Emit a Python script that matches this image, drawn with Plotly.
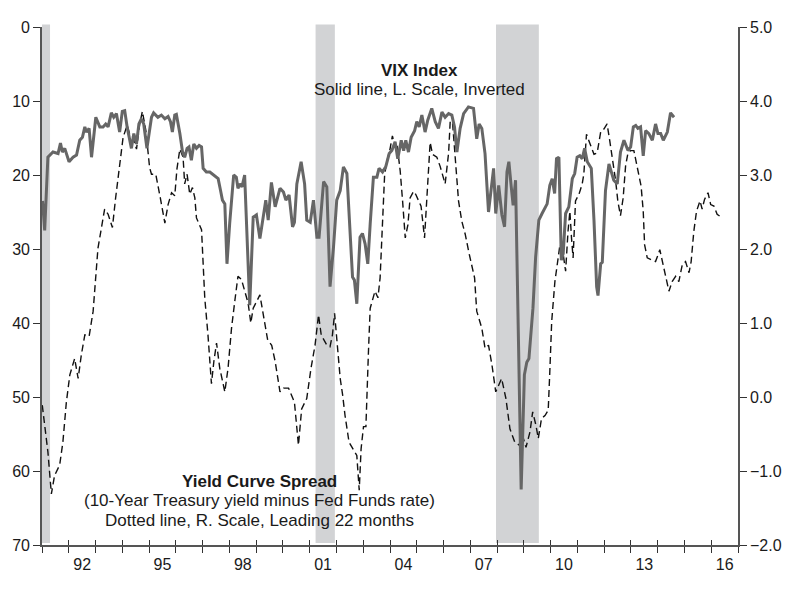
import plotly.graph_objects as go

# ---------------- data ----------------
vix_dates = [1991.02, 1991.10, 1991.22, 1991.41, 1991.60, 1991.69, 1991.76, 1991.85, 1992.01, 1992.16,
             1992.29, 1992.41, 1992.51, 1992.60, 1992.66, 1992.76, 1992.85, 1993.01, 1993.16, 1993.28,
             1993.38, 1993.47, 1993.59, 1993.68, 1993.78, 1993.90, 1994.00, 1994.09, 1994.18, 1994.34,
             1994.43, 1994.53, 1994.62, 1994.71, 1994.80, 1994.92, 1995.09, 1995.17, 1995.33, 1995.46,
             1995.59, 1995.71, 1995.80, 1995.87, 1995.96, 1996.02, 1996.15, 1996.25, 1996.33, 1996.42,
             1996.49, 1996.58, 1996.67, 1996.77, 1996.87, 1996.96, 1997.02, 1997.14, 1997.27, 1997.39,
             1997.58, 1997.67, 1997.74, 1997.83, 1997.91, 1998.01, 1998.16, 1998.26, 1998.32, 1998.39,
             1998.47, 1998.57, 1998.66, 1998.76, 1998.89, 1999.01, 1999.14, 1999.26, 1999.36, 1999.45,
             1999.57, 1999.71, 1999.89, 2000.02, 2000.11, 2000.23, 2000.36, 2000.43, 2000.52, 2000.68,
             2000.81, 2000.89, 2001.02, 2001.14, 2001.27, 2001.35, 2001.52, 2001.64, 2001.76, 2001.89,
             2002.01, 2002.14, 2002.26, 2002.39, 2002.51, 2002.60, 2002.67, 2002.76, 2002.88, 2002.97,
             2003.07, 2003.17, 2003.26, 2003.38, 2003.51, 2003.59, 2003.72, 2003.84, 2003.97, 2004.07,
             2004.19, 2004.29, 2004.42, 2004.51, 2004.59, 2004.69, 2004.79, 2004.92, 2005.00, 2005.09,
             2005.19, 2005.31, 2005.41, 2005.56, 2005.69, 2005.81, 2005.94, 2006.06, 2006.19, 2006.31,
             2006.41, 2006.50, 2006.62, 2006.75, 2006.93, 2007.12, 2007.24, 2007.33, 2007.43, 2007.55,
             2007.68, 2007.78, 2007.87, 2007.95, 2008.06, 2008.18, 2008.28, 2008.37, 2008.44, 2008.53,
             2008.60, 2008.69, 2008.78, 2008.90, 2009.02, 2009.11, 2009.19, 2009.34, 2009.44, 2009.56,
             2009.68, 2009.87, 2009.97, 2010.06, 2010.15, 2010.22, 2010.31, 2010.40, 2010.47, 2010.56,
             2010.68, 2010.81, 2010.90, 2010.99, 2011.09, 2011.18, 2011.27, 2011.37, 2011.52, 2011.62,
             2011.72, 2011.77, 2011.87, 2011.93, 2012.05, 2012.18, 2012.36, 2012.49, 2012.61, 2012.74,
             2012.89, 2012.99, 2013.09, 2013.18, 2013.26, 2013.36, 2013.46, 2013.55, 2013.67, 2013.80,
             2013.92, 2014.01, 2014.11, 2014.21, 2014.36, 2014.48, 2014.61]
vix_values = [23.5, 27.5, 17.6, 16.9, 17.1, 15.7, 16.9, 16.4, 18.2, 17.6,
              17.3, 15.3, 14.9, 13.5, 14.2, 13.7, 17.6, 12.2, 13.5, 13.5,
              13.1, 13.5, 11.6, 12.2, 11.7, 14.2, 11.4, 11.3, 13.5, 16.4,
              14.4, 15.8, 13.1, 12.4, 13.1, 16.4, 12.2, 11.6, 12.2, 11.9,
              12.4, 12.1, 12.8, 14.2, 11.9, 11.8, 14.4, 16.9, 17.6, 16.4,
              16.2, 18.0, 15.8, 16.4, 16.0, 16.2, 19.1, 19.6, 19.6, 20.0,
              20.5, 22.1, 23.4, 23.9, 32.0, 26.6, 20.0, 20.3, 21.8, 21.2,
              21.6, 20.0, 27.9, 37.6, 25.7, 25.4, 28.6, 25.7, 23.4, 26.1,
              21.0, 24.3, 21.8, 22.3, 23.4, 22.7, 27.0, 26.4, 21.2, 18.2,
              21.2, 26.1, 26.4, 23.4, 28.4, 28.4, 20.9, 21.6, 35.1, 29.7,
              23.4, 22.1, 18.9, 19.8, 27.9, 33.8, 34.2, 37.4, 28.4, 27.9,
              29.3, 32.0, 26.6, 20.3, 20.3, 19.1, 19.6, 18.9, 17.1, 16.7,
              15.5, 17.8, 15.3, 16.7, 15.3, 16.9, 14.9, 14.0, 12.8, 13.5,
              11.9, 14.2, 12.6, 11.0, 12.8, 13.7, 11.5, 12.2, 11.7, 11.9,
              13.5, 16.9, 13.7, 11.7, 10.8, 11.0, 15.1, 13.1, 13.7, 17.1,
              25.0, 22.1, 19.1, 25.2, 21.4, 25.4, 27.0, 19.6, 18.2, 21.6,
              24.1, 20.7, 40.0, 62.5, 47.0, 45.3, 44.8, 38.0, 31.1, 26.1,
              25.2, 23.9, 21.4, 20.5, 22.5, 17.8, 17.6, 31.5, 30.6, 25.2,
              24.3, 20.5, 19.8, 17.6, 17.4, 17.8, 16.4, 18.2, 19.1, 26.1,
              35.1, 36.3, 32.0, 31.8, 22.1, 18.5, 20.7, 21.2, 16.9, 15.3,
              16.7, 16.2, 13.5, 13.3, 13.7, 13.5, 17.4, 14.0, 14.4, 15.3,
              13.1, 14.4, 14.4, 15.3, 14.2, 11.6, 12.2]

spread_dates = [1991.01, 1991.22, 1991.35, 1991.47, 1991.66, 1991.78, 1991.91, 1992.04, 1992.22, 1992.35,
                1992.47, 1992.60, 1992.76, 1992.91, 1993.09, 1993.34, 1993.47, 1993.63, 1993.75, 1993.90,
                1994.03, 1994.18, 1994.28, 1994.40, 1994.53, 1994.65, 1994.75, 1994.88, 1995.02, 1995.09,
                1995.25, 1995.42, 1995.59, 1995.71, 1995.84, 1995.96, 1996.04, 1996.15, 1996.27, 1996.33,
                1996.42, 1996.52, 1996.62, 1996.71, 1996.77, 1996.96, 1997.08, 1997.20, 1997.33, 1997.42,
                1997.52, 1997.64, 1997.83, 1997.95, 1998.08, 1998.20, 1998.32, 1998.45, 1998.54, 1998.70,
                1998.80, 1998.89, 1999.14, 1999.32, 1999.43, 1999.58, 1999.71, 1999.89, 2000.02, 2000.21,
                2000.43, 2000.58, 2000.70, 2000.89, 2001.05, 2001.20, 2001.33, 2001.43, 2001.52, 2001.64,
                2001.76, 2001.85, 2001.93, 2002.01, 2002.14, 2002.23, 2002.32, 2002.47, 2002.60, 2002.76,
                2002.85, 2002.92, 2003.01, 2003.10, 2003.20, 2003.26, 2003.44, 2003.55, 2003.63, 2003.69,
                2003.80, 2003.92, 2004.00, 2004.09, 2004.19, 2004.26, 2004.38, 2004.47, 2004.57, 2004.67,
                2004.75, 2004.88, 2004.96, 2005.07, 2005.16, 2005.29, 2005.38, 2005.50, 2005.59, 2005.75,
                2005.87, 2006.06, 2006.19, 2006.25, 2006.34, 2006.43, 2006.56, 2006.68, 2006.81, 2006.96,
                2007.06, 2007.16, 2007.24, 2007.43, 2007.55, 2007.68, 2007.81, 2007.95, 2008.17, 2008.33,
                2008.48, 2008.66, 2008.83, 2008.95, 2009.08, 2009.23, 2009.33, 2009.45, 2009.54, 2009.66,
                2009.79, 2009.91, 2009.97, 2010.04, 2010.16, 2010.25, 2010.35, 2010.47, 2010.56, 2010.65,
                2010.72, 2010.78, 2010.84, 2010.93, 2011.06, 2011.18, 2011.24, 2011.34, 2011.43, 2011.52,
                2011.62, 2011.74, 2011.87, 2011.99, 2012.11, 2012.21, 2012.30, 2012.43, 2012.51, 2012.61,
                2012.71, 2012.80, 2012.89, 2012.99, 2013.11, 2013.26, 2013.38, 2013.46, 2013.51, 2013.61,
                2013.74, 2013.92, 2014.08, 2014.21, 2014.30, 2014.42, 2014.54, 2014.67, 2014.79, 2014.92,
                2015.04, 2015.17, 2015.25, 2015.35, 2015.45, 2015.58, 2015.66, 2015.75, 2015.88, 2015.98,
                2016.10, 2016.22, 2016.41]
spread_values = [-0.11, -0.74, -1.31, -1.06, -0.92, -0.61, -0.07, 0.30, 0.52, 0.25,
                 0.57, 0.84, 0.82, 1.16, 2.01, 2.54, 2.47, 2.29, 2.69, 3.15,
                 3.51, 3.67, 3.55, 3.51, 3.35, 3.69, 3.86, 3.60, 3.10, 3.01,
                 3.01, 2.69, 2.35, 2.60, 2.76, 2.72, 3.08, 3.35, 3.24, 2.88,
                 3.01, 2.74, 2.83, 2.69, 2.42, 2.26, 1.34, 0.84, 0.18, 0.48,
                 0.73, 0.39, 0.07, 0.39, 0.93, 1.29, 1.63, 1.59, 1.47, 1.27,
                 1.00, 1.20, 1.38, 1.02, 0.77, 0.70, 0.48, 0.07, 0.12, 0.12,
                 -0.07, -0.65, -0.16, -0.02, 0.39, 0.70, 1.11, 0.84, 0.77, 0.70,
                 0.68, 0.84, 1.13, 0.75, 0.25, 0.03, -0.25, -0.61, -0.70, -0.79,
                 -1.26, -0.70, -0.40, -0.40, 0.66, 1.20, 1.43, 1.34, 1.61, 2.11,
                 3.01, 3.24, 3.35, 3.53, 3.37, 3.42, 3.06, 2.65, 2.15, 2.33,
                 2.69, 2.78, 2.74, 2.65, 2.58, 2.15, 2.78, 3.44, 3.28, 3.24,
                 3.12, 2.88, 3.30, 3.73, 3.69, 3.24, 2.65, 2.38, 2.20, 1.93,
                 1.79, 1.61, 1.16, 0.93, 0.66, 0.70, 0.43, 0.07, 0.25, -0.02,
                 -0.43, -0.61, -0.65, -0.52, -0.68, -0.47, -0.20, -0.38, -0.56, -0.29,
                 -0.25, -0.18, 0.34, 1.02, 1.56, 1.83, 2.06, 1.93, 1.70, 2.24,
                 2.51, 2.15, 1.88, 2.65, 2.74, 2.88, 3.01, 3.55, 3.46, 3.37,
                 3.28, 3.30, 3.58, 3.62, 3.69, 3.46, 3.24, 2.92, 2.65, 2.45,
                 2.69, 3.12, 3.30, 3.33, 3.33, 3.06, 2.85, 2.51, 2.06, 1.88,
                 1.86, 1.83, 1.99, 1.79, 1.61, 1.43, 1.56, 1.63, 1.56, 1.79,
                 1.83, 1.68, 1.83, 2.24, 2.51, 2.65, 2.54, 2.67, 2.76, 2.60,
                 2.58, 2.47, 2.42]

recessions = [(1991.0, 1991.3), (2001.22, 2001.94), (2007.96, 2009.56)]

year_ticks = list(range(1991, 2018))
label_positions = [1992.5, 1995.5, 1998.5, 2001.5, 2004.5, 2007.5, 2010.5, 2013.5, 2016.5]
label_texts = ["92", "95", "98", "01", "04", "07", "10", "13", "16"]
left_ticks = [0, 10, 20, 30, 40, 50, 60, 70]
right_ticks = [-2, -1, 0, 1, 2, 3, 4, 5]

# ---------------- layout helpers ----------------
ML, MR, MT, MB = 42, 62, 27, 53
W, H = 800, 598
PW, PH = W - ML - MR, H - MT - MB


def px_x(x):
    return (x - ML) / PW


def px_y(y):
    return (H - MB - y) / PH


FONT = "Liberation Sans, Arial, Helvetica, sans-serif"
AXC = "#555555"
TXT = "#1a1a1a"
XR = [1991, 2017]

fig = go.Figure()

# empty helper traces so that the overlay x axes (labels / inner ticks) are drawn
fig.add_trace(go.Scatter(x=[None], y=[None], xaxis="x2", yaxis="y", mode="lines",
                         showlegend=False, hoverinfo="skip"))
fig.add_trace(go.Scatter(x=[None], y=[None], xaxis="x3", yaxis="y", mode="lines",
                         showlegend=False, hoverinfo="skip"))

fig.add_trace(go.Scatter(
    x=spread_dates, y=spread_values, mode="lines",
    line=dict(color="#111111", width=1.4, dash="7px,4px"),
    xaxis="x", yaxis="y", showlegend=False, hoverinfo="skip"))

fig.add_trace(go.Scatter(
    x=vix_dates, y=vix_values, mode="lines",
    line=dict(color="#666666", width=3),
    xaxis="x", yaxis="y2", showlegend=False, hoverinfo="skip"))

shapes = []
for s, e in recessions:
    shapes.append(dict(type="rect", xref="x", yref="paper", x0=s, x1=e, y0=0.004, y1=1.005,
                       fillcolor="#d2d3d5", line=dict(width=0), layer="below"))

annotations = [
    dict(text="<b>VIX Index</b>", x=px_x(419), y=px_y(70.5)),
    dict(text="Solid line, L. Scale, Inverted", x=px_x(419), y=px_y(89.5)),
    dict(text="<b>Yield Curve Spread</b>", x=px_x(259), y=px_y(481)),
    dict(text="(10-Year Treasury yield minus Fed Funds rate)", x=px_x(259), y=px_y(500.5)),
    dict(text="Dotted line, R. Scale, Leading 22 months", x=px_x(259), y=px_y(520.5)),
]
for a in annotations:
    a.update(xref="paper", yref="paper", xanchor="center", yanchor="middle", showarrow=False,
             font=dict(family=FONT, size=17, color=TXT))

tickfont = dict(family=FONT, size=16, color=TXT)

fig.update_layout(
    width=W, height=H,
    margin=dict(l=ML, r=MR, t=MT, b=MB),
    paper_bgcolor="white", plot_bgcolor="white",
    font=dict(family=FONT, size=16, color=TXT),
    shapes=shapes, annotations=annotations,
    xaxis=dict(
        range=XR, showgrid=False, zeroline=False,
        showline=True, linecolor=AXC, linewidth=1.6,
        tickmode="array", tickvals=year_ticks, showticklabels=False,
        ticks="outside", ticklen=6, tickwidth=1.3, tickcolor="#333333",
    ),
    xaxis2=dict(
        range=XR, overlaying="x", anchor="y", side="bottom",
        showgrid=False, zeroline=False, showline=False,
        tickmode="array", tickvals=label_positions, ticktext=label_texts,
        ticks="", ticklabelstandoff=8, tickfont=tickfont,
    ),
    xaxis3=dict(
        range=XR, overlaying="x", anchor="y", side="bottom",
        showgrid=False, zeroline=False, showline=False, showticklabels=False,
        tickmode="array", tickvals=year_ticks, ticks="inside", ticklen=5,
        tickwidth=1.3, tickcolor="#333333",
    ),
    yaxis=dict(
        range=[-2, 5], side="right", anchor="x", showgrid=False, zeroline=False,
        showline=True, linecolor=AXC, linewidth=1.6,
        tickmode="array", tickvals=right_ticks, tickformat=".1f",
        ticks="outside", ticklen=7, tickwidth=1.3, tickcolor="#333333",
        tickfont=tickfont,
    ),
    yaxis2=dict(
        range=[70, 0], side="left", overlaying="y", anchor="x", showgrid=False, zeroline=False,
        showline=True, linecolor=AXC, linewidth=1.6,
        tickmode="array", tickvals=left_ticks,
        ticks="outside", ticklen=7, tickwidth=1.3, tickcolor="#333333",
        tickfont=tickfont,
    ),
)

fig.write_html("out.html")
